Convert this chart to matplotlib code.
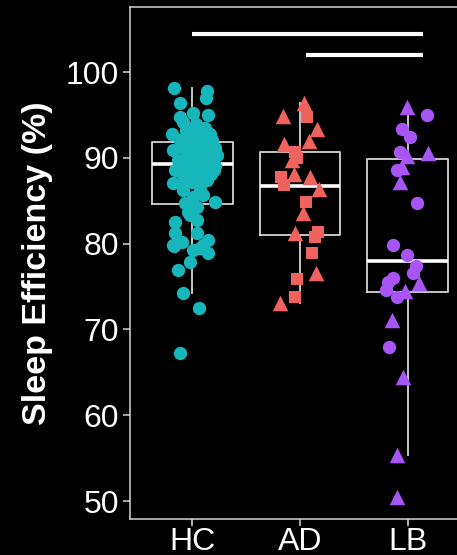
import matplotlib
matplotlib.use("Agg")
import matplotlib.pyplot as plt

plt.rcParams["font.family"] = ["Liberation Sans", "DejaVu Sans"]

# ---- data -------------------------------------------------------------
groups = ["HC", "AD", "LB"]
colors = {"HC": "#17B6BA", "AD": "#F0625E", "LB": "#A855F5"}

hc_values = [98.14, 97.79, 96.97, 96.39, 94.76, 95.22, 94.99, 94.17, 92.77, 93.24,
             93.47, 92.07, 90.91, 91.14, 88.58, 87.06, 87.18, 87.18, 87.18, 88.00,
             84.73, 85.43, 85.66, 84.85, 84.27, 83.68, 83.33, 82.75, 82.52, 81.24,
             80.19, 81.24, 80.42, 79.84, 79.84, 78.90, 79.25, 77.86, 76.92, 74.24,
             72.49, 67.25, 79.72, 79.49, 92.66, 92.31, 91.84, 91.72, 91.49, 90.91,
             90.91, 90.68, 90.33, 90.09, 89.98, 89.74, 89.51, 89.39, 89.16, 89.04,
             88.81, 88.58, 88.35, 88.11, 87.88, 87.65, 87.41, 92.07, 89.74, 91.14,
             92.77, 93.94, 93.01, 93.24, 90.33, 88.58, 89.98, 91.96, 91.14, 88.58,
             86.25, 86.25]
hc_jitter = [-0.174, 0.133, 0.124, -0.118, -0.118, 0.003, 0.142, -0.090, -0.193, 0.003,
             0.114, 0.180, -0.183, 0.207, -0.165, -0.183, -0.072, -0.007, 0.087, -0.090,
             -0.072, 0.003, 0.096, 0.207, 0.040, -0.044, -0.025, 0.040, -0.165, -0.165,
             -0.100, 0.040, 0.142, 0.096, -0.183, 0.142, 0.003, -0.025, -0.137, -0.090,
             0.059, -0.118, -0.174, 0.068, -0.025, 0.049, 0.114, -0.062, 0.021, 0.161,
             0.068, -0.044, 0.021, 0.114, 0.189, -0.072, -0.007, 0.068, 0.142, 0.207,
             -0.053, 0.031, 0.105, 0.170, -0.025, 0.049, 0.133, -0.118, -0.137, -0.090,
             0.161, 0.031, 0.087, -0.062, 0.226, 0.198, 0.077, 0.012, 0.133, -0.109,
             -0.090, 0.068]
hc_shape = ["o"] * len(hc_values)

ad_values = [96.39, 94.87, 94.76, 93.36, 91.61, 91.96, 90.68, 89.74, 89.98, 87.76,
             88.11, 86.83, 87.76, 86.36, 84.85, 83.57, 81.24, 81.35, 80.77, 78.90,
             76.57, 75.87, 73.78, 73.08]
ad_jitter = [0.034, -0.161, 0.062, 0.155, -0.152, 0.081, -0.049, -0.077, -0.031, -0.180,
             -0.059, -0.152, 0.090, 0.174, 0.053, 0.025, -0.049, 0.165, 0.137, 0.109,
             0.146, -0.031, -0.049, -0.189]
ad_shape = ["^", "^", "s", "^", "^", "^", "s", "^", "s", "s",
            "^", "s", "^", "^", "s", "^", "^", "s", "s", "s",
            "^", "s", "s", "^"]

lb_values = [95.92, 94.99, 93.36, 92.42, 90.68, 90.21, 90.56, 88.58, 88.93, 87.18,
             84.73, 79.84, 78.67, 77.39, 76.57, 75.41, 75.99, 75.52, 74.59, 73.78,
             74.48, 71.10, 67.95, 64.45, 55.36, 50.47]
lb_jitter = [-0.007, 0.180, -0.053, 0.021, -0.072, -0.007, 0.189, -0.100, -0.053, -0.072,
             0.087, -0.137, -0.007, 0.077, 0.049, 0.105, -0.137, -0.183, -0.202, -0.100,
             -0.025, -0.146, -0.174, -0.044, -0.100, -0.100]
lb_shape = ["^", "o", "o", "o", "o", "^", "^", "o", "^", "^",
            "o", "o", "o", "o", "o", "^", "o", "o", "o", "o",
            "^", "^", "o", "^", "^", "^"]

# box summaries (lower quartile, median, upper quartile, whisker ends)
box_q1 = [84.58, 81.04, 74.40]
box_med = [89.24, 86.75, 78.01]
box_q3 = [91.88, 90.71, 89.83]
box_lo = [74.24, 73.08, 55.36]
box_hi = [98.14, 96.39, 95.92]

# significance bars: (start, end, height)
sig_x0 = [1.0, 2.06]
sig_x1 = [3.14, 3.14]
sig_y = [104.43, 101.95]

y_ticks = [50, 60, 70, 80, 90, 100]
y_label = "Sleep Efficiency (%)"

# ---- figure -----------------------------------------------------------
W, H = 457, 555
fig = plt.figure(figsize=(W / 100, H / 100), dpi=100, facecolor="black")
ax = fig.add_axes([130 / W, 36.4 / H, 340 / W, 511.6 / H])
ax.set_facecolor("black")

line_col = "#d4d4d4"
stats = [dict(q1=a, med=b, q3=c, whislo=d, whishi=e, fliers=[])
         for a, b, c, d, e in zip(box_q1, box_med, box_q3, box_lo, box_hi)]
ax.bxp(stats, positions=[1, 2, 3], widths=0.75, showfliers=False, showcaps=False,
       boxprops=dict(color=line_col, linewidth=1.3),
       whiskerprops=dict(color=line_col, linewidth=1.3),
       medianprops=dict(color="white", linewidth=2.6, solid_capstyle="butt"),
       zorder=2)

series = [(hc_values, hc_jitter, hc_shape), (ad_values, ad_jitter, ad_shape),
          (lb_values, lb_jitter, lb_shape)]
marker_size = {"o": 92, "^": 125, "s": 82}
for i, (grp, (vals, jit, shp)) in enumerate(zip(groups, series), start=1):
    for m in ("o", "^", "s"):
        xs = [i + j for j, s in zip(jit, shp) if s == m]
        ys = [v for v, s in zip(vals, shp) if s == m]
        if xs:
            ax.scatter(xs, ys, s=marker_size[m], marker=m, color=colors[grp],
                       linewidths=0, zorder=3)

for x0, x1, y in zip(sig_x0, sig_x1, sig_y):
    ax.plot([x0, x1], [y, y], color="white", linewidth=3.0,
            solid_capstyle="butt", zorder=4)

ax.set_xlim(0.42, 3.58)
ax.set_ylim(47.95, 107.58)
ax.set_xticks([1, 2, 3])
ax.set_xticklabels(groups)
ax.set_yticks(y_ticks)

for side in ("left", "bottom", "top", "right"):
    ax.spines[side].set_color(line_col)
    ax.spines[side].set_linewidth(1.1)

ax.tick_params(axis="both", colors=line_col, length=5, width=1.1,
               labelcolor="white", labelsize=23, pad=3)
ax.tick_params(axis="x", pad=1)

ax.set_ylabel(y_label, color="white", fontsize=24.5, fontweight="bold")
ax.yaxis.set_label_coords(-0.225, 0.5)

fig.savefig("out.png", dpi=100, facecolor="black")
